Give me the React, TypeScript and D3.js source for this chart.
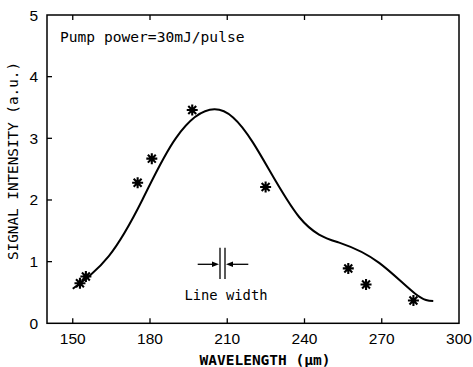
import React from "react";
import * as d3 from "d3";

const xTicks = [150, 180, 210, 240, 270, 300];
const yTicks = [0, 1, 2, 3, 4, 5];

const pointX = [152.8, 155.1, 175.2, 180.7, 196.4, 224.9, 257.0, 263.9, 282.3];
const pointY = [0.65, 0.76, 2.28, 2.67, 3.46, 2.21, 0.89, 0.63, 0.37];

const curveX = [150, 164, 177, 190, 205, 220, 238, 254, 269, 283, 290];
const curveY = [0.56, 1.09, 2.0, 3.0, 3.47, 2.93, 1.72, 1.3, 0.98, 0.48, 0.36];

const W = 473;
const H = 367;
const left = 47, right = 459, top = 15, bottom = 323.3;

export default function App() {
  const x = d3.scaleLinear().domain([140, 300]).range([left, right]);
  const y = d3.scaleLinear().domain([0, 5]).range([bottom, top]);
  const line = d3
    .line<number>()
    .x((_, i) => x(curveX[i]))
    .y((d) => y(d))
    .curve(d3.curveNatural);
  const curvePath = line(curveY) || "";
  const r = 5.5;
  const d2 = r * 0.72;
  const star = `M${-r},0L${r},0M0,${-r}L0,${r}M${-d2},${-d2}L${d2},${d2}M${-d2},${d2}L${d2},${-d2}`;
  const mono = "'DejaVu Sans Mono', monospace";
  const sans = "'Liberation Sans', Arial, sans-serif";
  const tickLen = 5;
  return (
    <svg
      width={W}
      height={H}
      style={{ position: "absolute", left: 0, top: 0, background: "#fff" }}
    >
      <rect x={left} y={top} width={right - left} height={bottom - top} fill="none" stroke="#000" strokeWidth={1.5} />
      {xTicks.filter((t) => t < 300).map((t) => (
        <g key={"xt" + t}>
          <line x1={x(t)} x2={x(t)} y1={bottom} y2={bottom - tickLen} stroke="#000" strokeWidth={1.3} />
          <line x1={x(t)} x2={x(t)} y1={top} y2={top + tickLen} stroke="#000" strokeWidth={1.3} />
        </g>
      ))}
      {xTicks.map((t) => (
        <text key={"xl" + t} x={x(t)} y={343.5} textAnchor="middle" fontFamily={sans} fontSize={15.5} fill="#000">
          {t}
        </text>
      ))}
      {yTicks.filter((t) => t > 0 && t < 5).map((t) => (
        <line key={"yt" + t} x1={left} x2={left + tickLen} y1={y(t)} y2={y(t)} stroke="#000" strokeWidth={1.3} />
      ))}
      {yTicks.map((t) => (
        <text key={"yl" + t} x={38} y={y(t) + 5.5} textAnchor="end" fontFamily={sans} fontSize={15.5} fill="#000">
          {t}
        </text>
      ))}
      <text x={265} y={365} textAnchor="middle" fontFamily={mono} fontSize={14.5} fontWeight="bold" fill="#000">
        WAVELENGTH (μm)
      </text>
      <text
        transform={`translate(18,${161}) rotate(-90)`}
        textAnchor="middle"
        fontFamily={mono}
        fontSize={14.3}
        fill="#000"
      >
        SIGNAL INTENSITY (a.u.)
      </text>
      <text x={60} y={41.7} fontFamily={mono} fontSize={14.6} fill="#000">
        Pump power=30mJ/pulse
      </text>
      <path d={curvePath} fill="none" stroke="#000" strokeWidth={2} />
      {pointX.map((px, i) => (
        <path
          key={"p" + i}
          d={star}
          transform={`translate(${x(px)},${y(pointY[i])})`}
          fill="none"
          stroke="#000"
          strokeWidth={2.1}
        />
      ))}
      <g stroke="#000" strokeWidth={1.3}>
        <line x1={220} x2={220} y1={247.7} y2={279} />
        <line x1={225} x2={225} y1={247.7} y2={279} />
        <line x1={197.7} x2={214} y1={264.3} y2={264.3} />
        <line x1={248.3} x2={231} y1={264.3} y2={264.3} />
      </g>
      <path d="M219,264.3L212,261.5L212,267.1Z" fill="#000" />
      <path d="M226,264.3L233,261.5L233,267.1Z" fill="#000" />
      <text x={226} y={300} textAnchor="middle" fontFamily={mono} fontSize={13.8} fill="#000">
        Line width
      </text>
    </svg>
  );
}
